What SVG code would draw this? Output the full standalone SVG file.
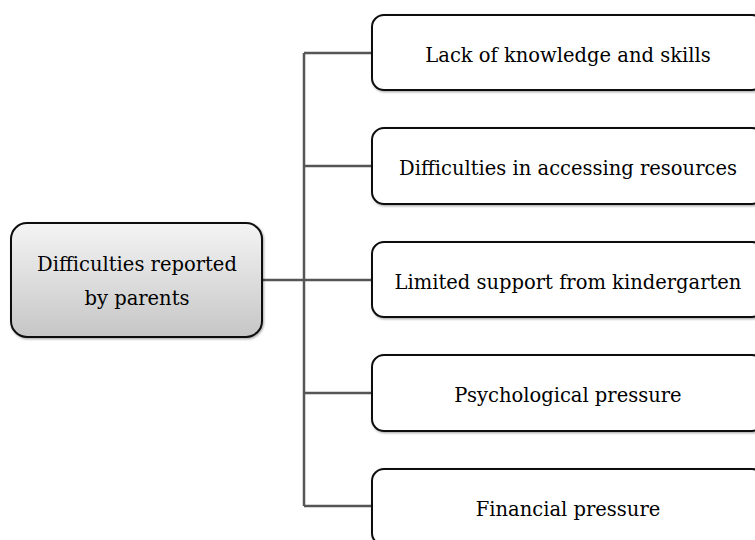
<svg xmlns="http://www.w3.org/2000/svg" width="755" height="540" viewBox="0 0 755 540">
  <defs>
    <linearGradient id="rootFill" x1="0" y1="0" x2="0" y2="1">
      <stop offset="0" stop-color="#f4f4f4"/>
      <stop offset="1" stop-color="#c6c6c6"/>
    </linearGradient>
    <filter id="soft" x="-5%" y="-5%" width="110%" height="115%">
      <feDropShadow dx="1" dy="1.2" stdDeviation="0.8" flood-color="#000" flood-opacity="0.35"/>
    </filter>
  </defs>
  <style>
    .box { fill: #ffffff; stroke: #111111; stroke-width: 2; filter: url(#soft); }
    .root { fill: url(#rootFill); stroke: #111111; stroke-width: 2; filter: url(#soft); }
    .lbl { font-family: "DejaVu Serif", "Liberation Serif", serif; font-size: 19.5px; fill: #000; text-anchor: middle; }
    .wire { fill: none; stroke: #555555; stroke-width: 2.5; }
  </style>
  <rect width="755" height="540" fill="#ffffff"/>

  <g id="connectors">
    <path class="wire" d="M263 280 H304 M304 53 V506 M304 53 H372 M304 166 H372 M304 280 H372 M304 393 H372 M304 506 H372"/>
  </g>

  <g id="root">
    <rect class="root" x="11" y="223" width="251" height="114" rx="16"/>
    <text class="lbl" x="137" y="271">Difficulties reported</text>
    <text class="lbl" x="137" y="305">by parents</text>
  </g>

  <g id="knowledge">
    <rect class="box" x="372" y="15" width="392" height="75" rx="12"/>
    <text class="lbl" x="568" y="62">Lack of knowledge and skills</text>
  </g>
  <g id="resources">
    <rect class="box" x="372" y="128" width="392" height="76" rx="12"/>
    <text class="lbl" x="568" y="175">Difficulties in accessing resources</text>
  </g>
  <g id="kindergarten">
    <rect class="box" x="372" y="242" width="392" height="75" rx="12"/>
    <text class="lbl" x="568" y="289">Limited support from kindergarten</text>
  </g>
  <g id="psychological">
    <rect class="box" x="372" y="355" width="392" height="76" rx="12"/>
    <text class="lbl" x="568" y="402">Psychological pressure</text>
  </g>
  <g id="financial">
    <rect class="box" x="372" y="469" width="392" height="76" rx="12"/>
    <text class="lbl" x="568" y="516">Financial pressure</text>
  </g>
</svg>
